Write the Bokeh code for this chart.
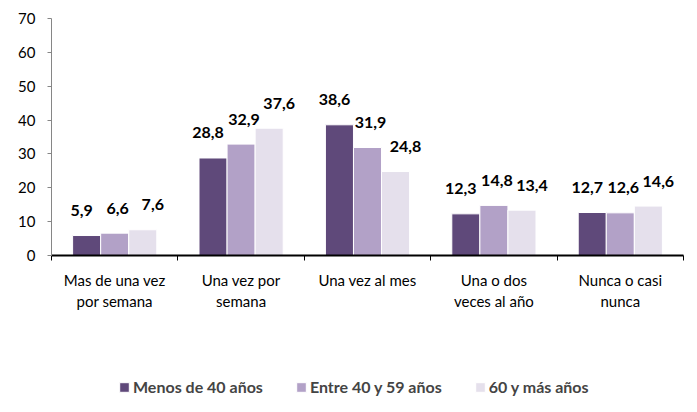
import numpy as np
from bokeh.plotting import figure
from bokeh.layouts import column
from bokeh.models import (ColumnDataSource, Range1d, FixedTicker, Legend, LegendItem)
from bokeh.embed import file_html
from bokeh.resources import INLINE

categories = ["Mas de una vez\npor semana", "Una vez por\nsemana", "Una vez al mes",
              "Una o dos\nveces al año", "Nunca o casi\nnunca"]
series_names = ["Menos de 40 años", "Entre 40 y 59 años", "60 y más años"]
menos40 = [5.9, 28.8, 38.6, 12.3, 12.7]
entre40_59 = [6.6, 32.9, 31.9, 14.8, 12.6]
mas60 = [7.6, 37.6, 24.8, 13.4, 14.6]
y_ticks = [0, 10, 20, 30, 40, 50, 60, 70]

colors = ["#5F497A", "#B2A1C7", "#E5E0EC"]
label_dx = [-5, 3, 10]
FONT = "Lato"

p = figure(width=697, height=350, output_backend="svg", toolbar_location=None,
           x_range=Range1d(0, len(categories)), y_range=Range1d(0, 70),
           min_border_left=51, min_border_right=14, min_border_top=18, min_border_bottom=95)
p.outline_line_color = None
p.xgrid.grid_line_color = None
p.ygrid.grid_line_color = None
p.background_fill_color = "white"

bar_w = 0.222
offsets = [-bar_w, 0.0, bar_w]
idx = np.arange(len(categories))
sources = []
for vals, off, col, dx in zip([menos40, entre40_59, mas60], offsets, colors, label_dx):
    src = ColumnDataSource(dict(x=idx + 0.5 + off, top=vals,
                                lab=[f"{v:.1f}".replace(".", ",") for v in vals]))
    sources.append(src)
    p.vbar(x="x", top="top", width=bar_w, source=src, fill_color=col, line_color="white", line_width=1)
    p.text(x="x", y="top", text="lab", source=src, text_align="center", text_baseline="middle",
           x_offset=dx, y_offset=-25,
           text_font_size="16px", text_font_style="bold", text_color="black", text_font={"value": FONT})

# x axis
xa = p.xaxis[0]
xa.ticker = FixedTicker(ticks=list(idx + 0.5), minor_ticks=list(range(len(categories) + 1)))
xa.major_label_overrides = {float(i + 0.5): c for i, c in enumerate(categories)}
xa.major_tick_line_color = None
xa.major_tick_out = 0
xa.major_tick_in = 0
xa.minor_tick_line_color = "black"
xa.minor_tick_out = 5
xa.minor_tick_in = 0
xa.minor_tick_line_width = 1
xa.axis_line_color = "black"
xa.axis_line_width = 2
xa.major_label_text_font = FONT
xa.major_label_text_font_size = "15px"
xa.major_label_text_color = "black"
xa.major_label_standoff = 10

ya = p.yaxis[0]
ya.ticker = FixedTicker(ticks=y_ticks)
ya.minor_tick_line_color = None
ya.axis_line_color = "#868686"
ya.major_tick_line_color = "#868686"
ya.major_tick_out = 4
ya.major_tick_in = 0
ya.major_label_text_font = FONT
ya.major_label_text_font_size = "15px"
ya.major_label_text_color = "black"
ya.major_label_standoff = 12

# legend strip (bars of the same data, kept out of view; only the legend is shown)
lg = figure(width=697, height=62, output_backend="svg", toolbar_location=None,
            x_range=Range1d(0, len(categories)), y_range=Range1d(1000, 1001),
            min_border_left=0, min_border_right=0, min_border_top=0, min_border_bottom=0)
lg.axis.visible = False
lg.grid.visible = False
lg.outline_line_color = None
items = []
for name, col, src in zip(series_names, colors, sources):
    r = lg.vbar(x="x", top="top", width=bar_w, source=src, fill_color=col, line_color="white", line_width=1)
    items.append(LegendItem(label=name, renderers=[r]))
legend = Legend(items=items, orientation="horizontal", location=(67, 16), padding=0, margin=0,
                spacing=32, glyph_width=12, glyph_height=12, label_standoff=3,
                label_text_font=FONT, label_text_font_size="16px", label_text_font_style="bold",
                border_line_color=None, background_fill_alpha=0)
lg.add_layout(legend, "center")

open("out.html", "w").write(file_html(column(p, lg, spacing=0), INLINE))
